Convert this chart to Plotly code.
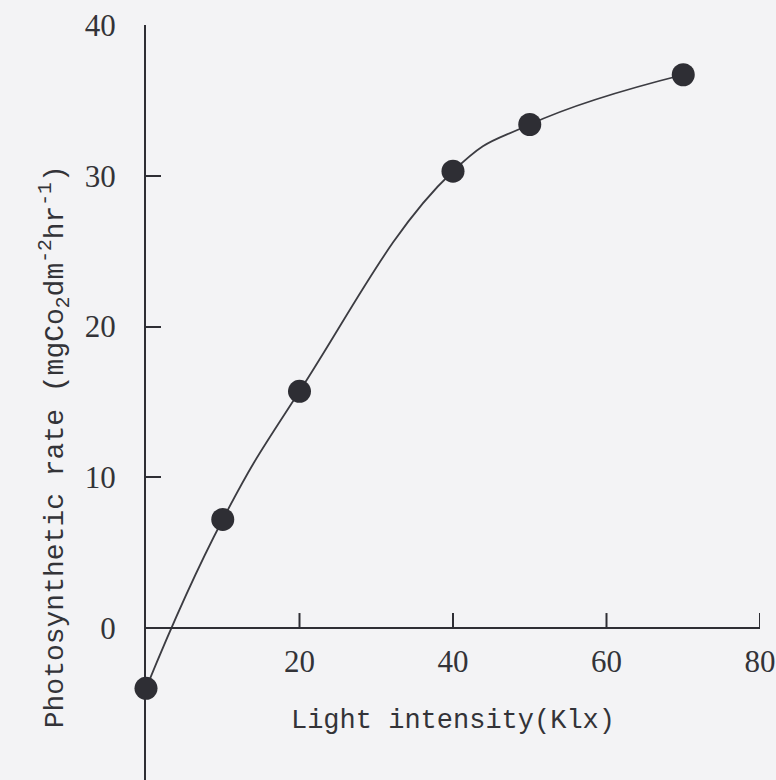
import plotly.graph_objects as go

# Light-response curve of leaf photosynthesis
light_klx = [0, 10, 20, 40, 50, 70]
photo_rate = [-4.0, 7.2, 15.7, 30.3, 33.4, 36.7]

x_ticks = [20, 40, 60, 80]
y_ticks = [0, 10, 20, 30, 40]

x_range = [0, 80]
y_range = [-10.08, 40]

ink = "#2e2e34"
text_col = "#333338"
paper = "#f3f3f5"
tick_len = 15

fig = go.Figure()
fig.add_trace(go.Scatter(
    x=light_klx,
    y=photo_rate,
    mode="lines+markers",
    line=dict(shape="spline", smoothing=1.3, color="#3c3c42", width=1.8),
    marker=dict(size=23, color=ink),
    cliponaxis=False,
    showlegend=False,
    hoverinfo="skip",
))

# x axis crosses the y axis at y = 0
x_axis_pos = (0 - y_range[0]) / (y_range[1] - y_range[0])

# upward tick marks on the x axis (sized in pixels, anchored at y = 0)
tick_shapes = [
    dict(type="line", xref="x", yref="y", ysizemode="pixel", yanchor=0,
         x0=v, x1=v, y0=0, y1=tick_len,
         line=dict(color=ink, width=2), layer="above")
    for v in x_ticks
]

fig.update_layout(
    width=776,
    height=780,
    margin=dict(l=146, r=16, t=25, b=0),
    paper_bgcolor=paper,
    plot_bgcolor=paper,
    shapes=tick_shapes,
    xaxis=dict(
        range=x_range,
        anchor="free",
        position=x_axis_pos,
        showgrid=False,
        zeroline=False,
        showline=True,
        linecolor=ink,
        linewidth=2,
        ticks="",
        tickvals=x_ticks,
        ticktext=[str(v) for v in x_ticks],
        ticklabelstandoff=6,
        tickfont=dict(family="Liberation Serif", size=31, color=text_col),
        title=dict(
            text="Light intensity(Klx)",
            font=dict(family="Liberation Mono", size=27, color=text_col),
            standoff=30,
        ),
    ),
    yaxis=dict(
        range=y_range,
        showgrid=False,
        zeroline=False,
        showline=True,
        linecolor=ink,
        linewidth=2,
        ticks="inside",
        ticklen=tick_len,
        tickwidth=2,
        tickcolor=ink,
        tickvals=y_ticks,
        ticktext=[str(v) for v in y_ticks],
        ticklabelstandoff=22,
        tickfont=dict(family="Liberation Serif", size=31, color=text_col),
    ),
    annotations=[dict(
        text="Photosynthetic rate (mgCo<sub>2</sub>dm<sup>-2</sup>hr<sup>-1</sup>)",
        xref="paper",
        yref="y",
        x=-0.148,
        y=12.0,
        xanchor="center",
        yanchor="middle",
        textangle=-90,
        showarrow=False,
        font=dict(family="Liberation Mono", size=28, color=text_col),
    )],
)

fig.write_html("out.html")
